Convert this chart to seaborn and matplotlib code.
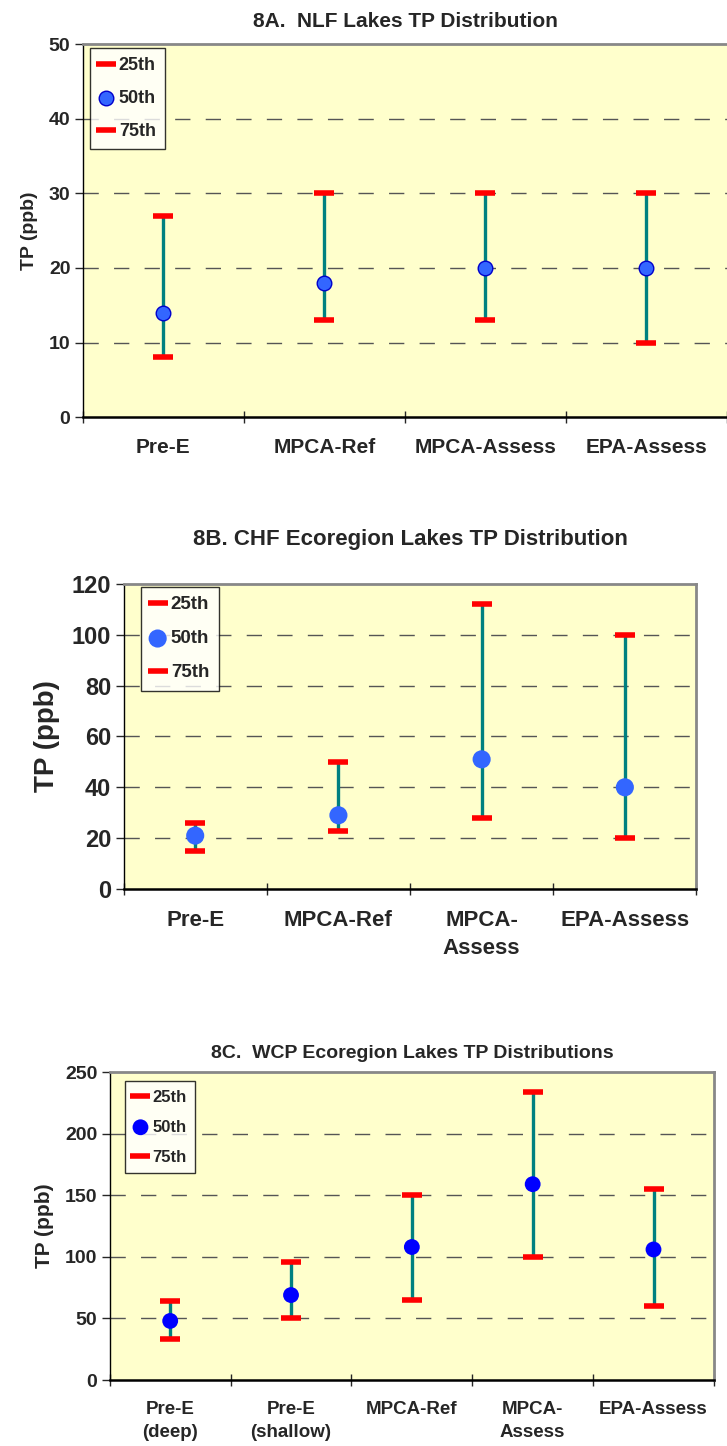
import numpy as np
import matplotlib
matplotlib.use("Agg")
import matplotlib.pyplot as plt
import seaborn as sns

# panel A - NLF lakes
a_cats = ['Pre-E', 'MPCA-Ref', 'MPCA-Assess', 'EPA-Assess']
a_p25 = [8, 13, 13, 10]
a_p50 = [14, 18, 20, 20]
a_p75 = [27, 30, 30, 30]

# panel B - CHF ecoregion
b_cats = ['Pre-E', 'MPCA-Ref', 'MPCA-\nAssess', 'EPA-Assess']
b_p25 = [15, 23, 28, 20]
b_p50 = [21, 29, 51, 40]
b_p75 = [26, 50, 112, 100]

# panel C - WCP ecoregion
c_cats = ['Pre-E\n(deep)', 'Pre-E\n(shallow)', 'MPCA-Ref', 'MPCA-\nAssess', 'EPA-Assess']
c_p25 = [33, 50, 65, 100, 60]
c_p50 = [48, 69, 108, 159, 106]
c_p75 = [64, 96, 150, 234, 155]

sns.set_style("white")
plt.rcParams['font.family'] = ['Liberation Sans', 'DejaVu Sans']
plt.rcParams['font.weight'] = 'bold'

fig = plt.figure(figsize=(7.27, 14.46), dpi=100)


def panel(rect, cats, p25, p50, p75, title, ymax, ystep, dot_color, dot_edge, dot_size,
          title_size, title_pad, tick_size, label_size, xlab_size, leg_size, leg_anchor,
          right_spine=True):
    ax = fig.add_axes(rect)
    ax.set_facecolor('#FFFFCC')
    x = np.arange(len(cats))
    # dashed grid
    for yv in np.arange(ystep, ymax, ystep):
        ax.axhline(yv, color='#555555', lw=1, dashes=(11, 11), zorder=1)
    ax.vlines(x, p25, p75, color='#008080', lw=2.4, zorder=2)
    ax.plot(x, p25, ls='none', marker='_', ms=14, mew=4, color='#FF0000', label='25th', zorder=3)
    sns.scatterplot(x=x, y=p50, ax=ax, s=dot_size, color=dot_color, edgecolor=dot_edge,
                    linewidth=1 if dot_edge != 'none' else 0, label='50th', zorder=4)
    ax.plot(x, p75, ls='none', marker='_', ms=14, mew=4, color='#FF0000', label='75th', zorder=3)

    ax.set_xlim(-0.5, len(cats) - 0.5)
    ax.set_ylim(0, ymax)
    ax.set_yticks(np.arange(0, ymax + 1, ystep))
    ax.tick_params(axis='y', labelsize=tick_size, length=6, width=1, direction='out', left=True, pad=3)
    ax.set_xticks(x)
    ax.set_xticklabels(cats, fontsize=xlab_size, fontweight='bold', linespacing=1.45)
    ax.set_xticks(np.arange(-0.5, len(cats)), minor=True)
    ax.tick_params(axis='x', which='major', length=0, pad=15)
    ax.tick_params(axis='x', which='minor', length=9, width=1, direction='inout', bottom=True)
    for lab in ax.get_yticklabels():
        lab.set_fontweight('bold')
    ax.set_ylabel('TP (ppb)', fontsize=label_size, fontweight='bold', labelpad=8)
    ax.set_title(title, fontsize=title_size, fontweight='bold', pad=title_pad)

    ax.spines['left'].set_color('black')
    ax.spines['bottom'].set_color('black')
    ax.spines['bottom'].set_linewidth(1.8)
    ax.spines['left'].set_linewidth(1)
    ax.spines['top'].set_color('#888888')
    ax.spines['top'].set_linewidth(2)
    ax.spines['right'].set_color('#888888')
    ax.spines['right'].set_linewidth(2)
    ax.spines['right'].set_visible(right_spine)

    leg = ax.legend(loc='upper left', frameon=True, fancybox=False, fontsize=leg_size,
                    handlelength=0.8, handletextpad=0.3, labelspacing=0.9,
                    bbox_to_anchor=leg_anchor, borderaxespad=0, borderpad=0.5)
    leg.get_frame().set_edgecolor('black')
    leg.get_frame().set_linewidth(1)
    for t in leg.get_texts():
        t.set_fontweight('bold')
    return ax


panel([0.114, 0.7115, 0.886, 0.258], a_cats, a_p25, a_p50, a_p75,
      '8A.  NLF Lakes TP Distribution', 50, 10, '#3366FF', '#0000CC', 110,
      15, 12, 14, 14, 15, 13, (0.011, 0.99), right_spine=False)
panel([0.170, 0.3852, 0.788, 0.211], b_cats, b_p25, b_p50, b_p75,
      '8B. CHF Ecoregion Lakes TP Distribution', 120, 20, '#3366FF', 'none', 170,
      16, 28, 17, 20, 16, 13.5, (0.03, 0.99))
panel([0.151, 0.0456, 0.831, 0.213], c_cats, c_p25, c_p50, c_p75,
      '8C.  WCP Ecoregion Lakes TP Distributions', 250, 50, '#0000FF', 'none', 130,
      14, 10, 14, 15, 13.5, 12, (0.026, 0.97))

fig.savefig('out.png', dpi=100)
